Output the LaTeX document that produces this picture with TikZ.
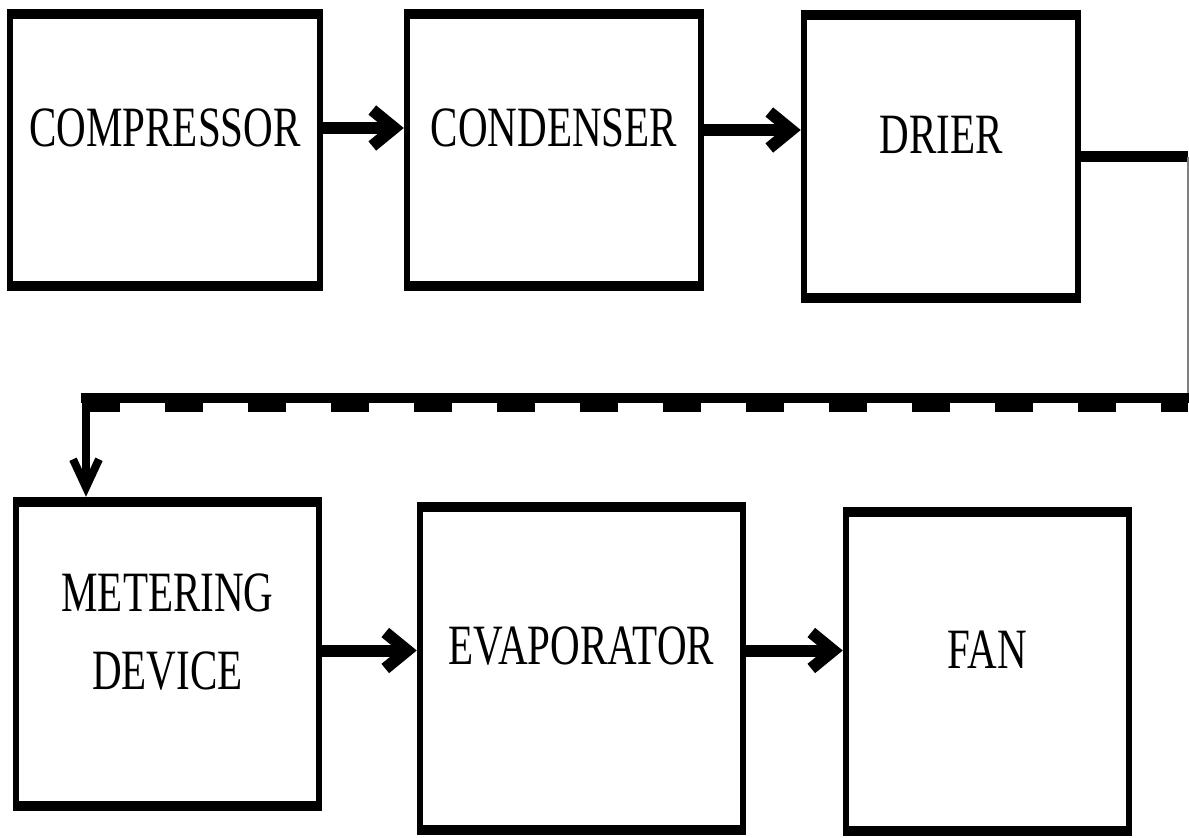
\documentclass[tikz,border=0pt]{standalone}
\usepackage{fontspec}
\setmainfont{Liberation Serif}[FakeStretch=0.72]
\usetikzlibrary{arrows.meta,positioning}

\begin{document}
\begin{tikzpicture}[x=1pt,y=-1pt,on grid,auto,
		font=\fontsize{57}{78}\selectfont,
		unit/.style={draw,line width=5.5pt,inner sep=0pt},
		tag/.style={align=center,inner sep=0pt,yshift=22pt},
		flow/.style={line width=12pt,shorten >=0.5pt,-{Straight Barb[length=22pt,width=36pt]}},
		drop/.style={line width=8pt,shorten >=0.5pt,-{Straight Barb[length=28pt,width=26pt]}}]
		\useasboundingbox (0,0) rectangle (1189,838);
		\node[unit,minimum width=310pt,minimum height=276pt,label={[tag,name=comp-l]center:COMPRESSOR}] (comp) at (165,150) {};
		\node[unit,minimum width=294pt,minimum height=276pt,label={[tag,name=cond-l]center:CONDENSER}] (cond) [right=389pt of comp] {};
		\node[unit,minimum width=274pt,minimum height=287pt,label={[tag,name=drier-l]center:DRIER}] (drier) [below right=6.5pt and 387pt of cond] {};
		\node[unit,minimum width=303pt,minimum height=308pt,label={[tag,name=meter-l]center:METERING\\DEVICE}] (meter) [below right=504pt and 2.5pt of comp] {};
		\node[unit,minimum width=323pt,minimum height=327pt,label={[tag,name=evap-l]center:EVAPORATOR}] (evap) [below right=14.5pt and 414pt of meter] {};
		\node[unit,minimum width=283pt,minimum height=323pt,label={[tag,name=fan-l]center:FAN}] (fan) [below right=3pt and 406pt of evap] {};
		\foreach \b in {comp,cond,drier,meter,evap,fan}
			\draw[line width=10pt] ([yshift=-5pt]\b.north west) -- ([yshift=-5pt]\b.north east)
				([yshift=5pt]\b.south west) -- ([yshift=5pt]\b.south east);
		\coordinate (edge) at (1188,398);
		\coordinate (turn) at (86,398);
		\draw[flow] (comp-l -| comp.east) -- (comp-l -| cond.west);
		\draw[flow] ([yshift=-2pt]cond-l -| cond.east) -- ([yshift=-2pt]cond-l -| drier.west);
		\draw[flow] ([yshift=-4pt]evap-l -| meter.east) -- ([yshift=-4pt]evap-l -| evap.west);
		\draw[flow] ([yshift=-4pt]evap-l -| evap.east) -- ([yshift=-4pt]evap-l -| fan.west);
		\draw[line width=11pt] (drier.east) -- (drier.east -| edge);
		\draw[line width=1.5pt,gray] (drier.east -| edge) -- (edge);
		\draw[line width=10pt,line cap=rect] (edge) -- (turn);
		\draw[line width=9pt,dash pattern=on 38pt off 45pt] ([xshift=-4pt,yshift=-9.5pt]turn) -- ([yshift=-9.5pt]edge);
		\draw[drop] (turn) -- (turn |- meter.north);
\end{tikzpicture}
\end{document}
